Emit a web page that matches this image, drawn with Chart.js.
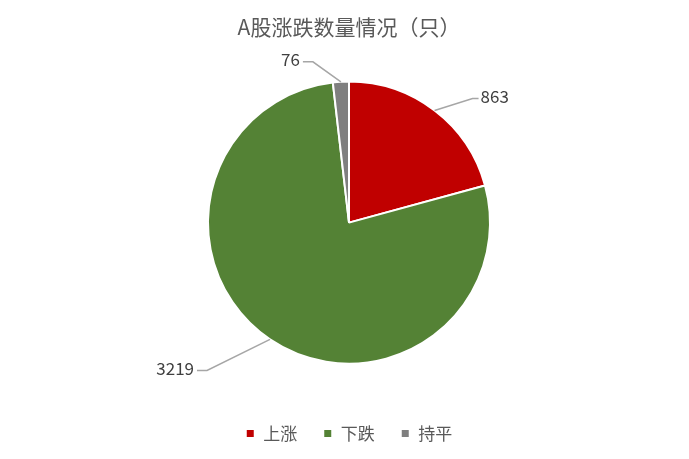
<!DOCTYPE html>
<html>
<head>
    <title>A股涨跌数量情况</title>
    <script src="https://cdn.jsdelivr.net/npm/chart.js"></script>
    <style>
        html, body { margin: 0; padding: 0; background: #fff; }
    </style>
</head>
<body>

<canvas id="pieChart" width="689" height="459"></canvas>

<script>
const categories = ['上涨', '下跌', '持平'];
const counts = [863, 3219, 76];
const sliceColors = ['#C00000', '#548235', '#7F7F7F'];

// where each label's leader line bends, relative to the slice edge (px)
const elbowOffsets = [[38, -12], [-63, 31], [-28, -20]];

const labelFont = '17px "Noto Sans CJK SC", "Noto Sans", sans-serif';

const leaderLabels = {
    id: 'leaderLabels',
    afterDatasetsDraw(chart) {
        const ctx = chart.ctx;
        const meta = chart.getDatasetMeta(0);
        ctx.save();
        ctx.font = labelFont;
        ctx.textBaseline = 'middle';
        meta.data.forEach(function(arc, i) {
            const mid = (arc.startAngle + arc.endAngle) / 2;
            const x0 = arc.x + Math.cos(mid) * arc.outerRadius;
            const y0 = arc.y + Math.sin(mid) * arc.outerRadius;
            const x1 = x0 + elbowOffsets[i][0];
            const y1 = y0 + elbowOffsets[i][1];
            const right = elbowOffsets[i][0] > 0;
            const x2 = x1 + (right ? 6 : -10);
            ctx.strokeStyle = '#A6A6A6';
            ctx.lineWidth = 1.5;
            ctx.beginPath();
            ctx.moveTo(x0, y0);
            ctx.lineTo(x1, y1);
            ctx.lineTo(x2, y1);
            ctx.stroke();
            ctx.fillStyle = '#404040';
            ctx.textAlign = right ? 'left' : 'right';
            ctx.fillText(String(counts[i]), x2 + (right ? 2 : -3), y1 - 2);
        });
        ctx.restore();
    }
};

new Chart(document.getElementById('pieChart').getContext('2d'), {
    type: 'pie',
    data: {
        labels: categories,
        datasets: [{
            data: counts,
            backgroundColor: sliceColors,
            borderColor: '#FFFFFF',
            borderWidth: 2
        }]
    },
    options: {
        responsive: false,
        animation: false,
        radius: 141,
        layout: {
            padding: { left: 9, right: 0, top: 0, bottom: 7 }
        },
        plugins: {
            title: {
                display: true,
                text: 'A股涨跌数量情况（只）',
                color: '#595959',
                font: { family: '"Noto Sans CJK SC", sans-serif', size: 21, weight: 'normal' },
                padding: { top: 14, bottom: 7 }
            },
            legend: {
                display: true,
                position: 'bottom',
                labels: {
                    color: '#595959',
                    font: { family: '"Noto Sans CJK SC", sans-serif', size: 17 },
                    boxWidth: 9,
                    boxHeight: 9,
                    usePointStyle: true,
                    pointStyle: 'rect',
                    padding: 26
                }
            },
            tooltip: { enabled: false }
        }
    },
    plugins: [leaderLabels]
});
</script>

</body>
</html>
